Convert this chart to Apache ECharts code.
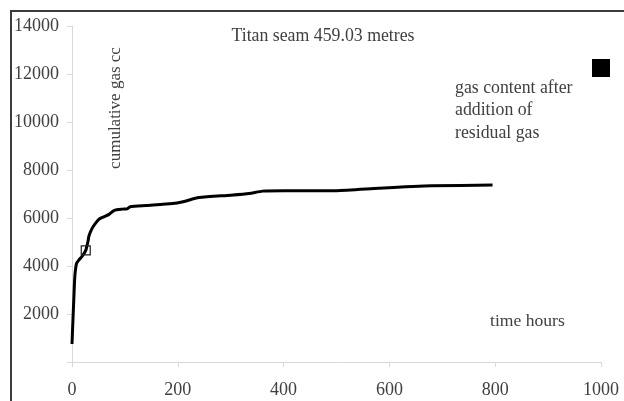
<!DOCTYPE html>
<html>
<head>
    <meta charset="utf-8">
    <title>Titan seam</title>
    <script src="https://cdn.jsdelivr.net/npm/echarts@6/dist/echarts.min.js"></script>
</head>
<body style="margin:0;">
    <div id="chart" style="width: 624px; height: 401px;"></div>
    <script>
        // desorption curve: time (hours) vs cumulative gas (cc)
        var timeHours = [0, 1.5, 3.4, 5.3, 8.5, 13, 19, 26, 30, 32, 38, 45, 51, 60, 70, 80, 95, 104, 110, 140, 190, 210, 240, 300, 335, 360, 400, 500, 580, 680, 795];
        var cumulativeGas = [750, 1600, 2600, 3550, 4100, 4250, 4400, 4650, 5000, 5250, 5570, 5800, 5950, 6050, 6150, 6320, 6370, 6380, 6470, 6520, 6600, 6680, 6850, 6950, 7020, 7120, 7140, 7140, 7240, 7340, 7370];
        // open square marker on the curve
        var markTime = [26];
        var markGas = [4650];
        // gas content after residual gas added
        var residualTime = [1000];
        var residualGas = [12250];
        var xTicks = [0, 200, 400, 600, 800, 1000];
        var yTicks = [0, 2000, 4000, 6000, 8000, 10000, 12000, 14000];

        var font = '"Liberation Serif", "DejaVu Serif", serif';
        var textColor = '#404040';
        var axisColor = '#d9d9d9';

        function pairs(xs, ys) {
            return xs.map(function (x, i) { return [x, ys[i]]; });
        }

        var chart = echarts.init(document.getElementById('chart'));
        var option = {
            animation: false,
            backgroundColor: '#fff',
            grid: { left: 72, right: 23, top: 26, bottom: 39 },
            xAxis: {
                type: 'value',
                min: xTicks[0],
                max: xTicks[xTicks.length - 1],
                interval: 200,
                axisLine: { lineStyle: { color: axisColor, width: 1 } },
                axisTick: { show: true, length: 5, lineStyle: { color: axisColor } },
                splitLine: { show: false },
                axisLabel: {
                    color: textColor, fontFamily: font, fontSize: 18, margin: 19,
                    formatter: function (v) { return String(v); }
                }
            },
            yAxis: {
                type: 'value',
                min: yTicks[0],
                max: yTicks[yTicks.length - 1],
                interval: 2000,
                axisLine: { show: true, lineStyle: { color: axisColor, width: 1 } },
                axisTick: { show: true, length: 5, lineStyle: { color: axisColor } },
                splitLine: { show: false },
                axisLabel: {
                    color: textColor, fontFamily: font, fontSize: 18, margin: 13,
                    formatter: function (v) { return v === 0 ? '' : String(v); }
                }
            },
            series: [{
                type: 'line',
                data: pairs(timeHours, cumulativeGas),
                showSymbol: false,
                smooth: 0.2,
                lineStyle: { color: '#000', width: 3 },
                z: 2
            }, {
                type: 'scatter',
                data: pairs(markTime, markGas),
                symbol: 'rect',
                symbolSize: 9,
                itemStyle: { color: 'rgba(255,255,255,0)', borderColor: '#222', borderWidth: 1.2, opacity: 1 },
                z: 3
            }, {
                type: 'scatter',
                data: pairs(residualTime, residualGas),
                symbol: 'rect',
                symbolSize: 18,
                itemStyle: { color: '#000', opacity: 1 },
                z: 3
            }],
            graphic: [{
                type: 'rect',
                shape: { x: 11, y: 11, width: 700, height: 500 },
                style: { fill: 'none', stroke: '#3c3c3c', lineWidth: 2 },
                silent: true
            }, {
                type: 'text',
                x: 323, y: 36,
                style: { text: 'Titan seam 459.03 metres', font: '17.8px ' + font, fill: textColor, align: 'center', verticalAlign: 'middle' }
            }, {
                type: 'text',
                x: 116, y: 108,
                rotation: Math.PI / 2,
                style: { text: 'cumulative gas cc', font: '17px ' + font, fill: textColor, align: 'center', verticalAlign: 'middle' }
            }, {
                type: 'text',
                x: 455, y: 77,
                style: { text: 'gas content after\naddition of\nresidual gas', font: '17.8px ' + font, lineHeight: 22.5, fill: textColor, align: 'left', verticalAlign: 'top' }
            }, {
                type: 'text',
                x: 490, y: 321,
                style: { text: 'time hours', font: '17.6px ' + font, fill: textColor, align: 'left', verticalAlign: 'middle' }
            }]
        };
        chart.setOption(option);
    </script>
</body>
</html>
